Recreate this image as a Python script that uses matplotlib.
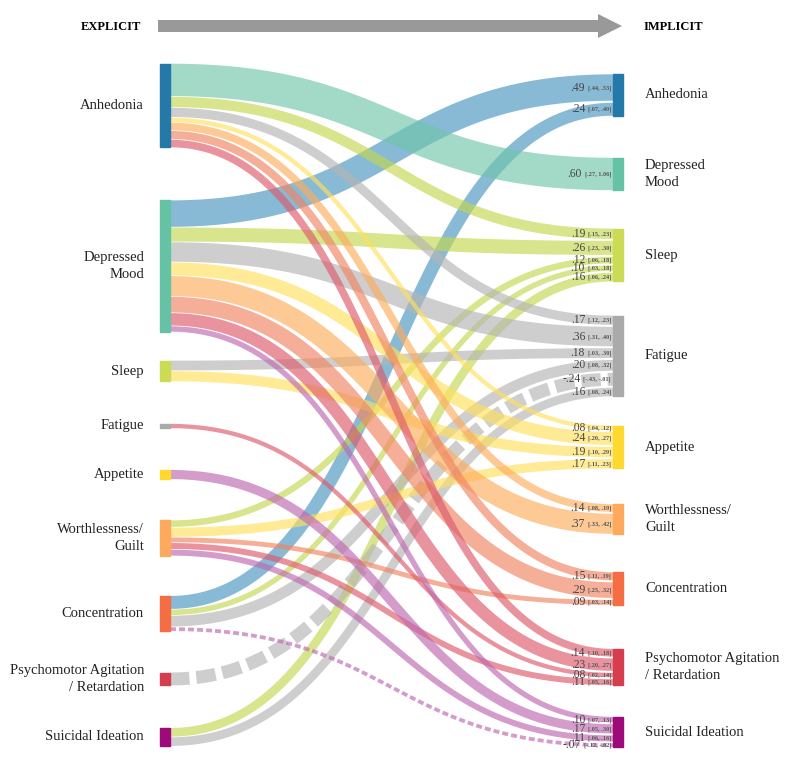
import matplotlib
matplotlib.use('Agg')
import matplotlib.pyplot as plt
import numpy as np
from matplotlib.patches import Rectangle, FancyArrow

plt.rcParams['font.family'] = ['Liberation Serif', 'DejaVu Serif']
plt.rcParams['lines.scale_dashes'] = False

# symptoms (same on both sides)
left_labels = ['Anhedonia', 'Depressed\nMood', 'Sleep', 'Fatigue', 'Appetite',
               'Worthlessness/\nGuilt', 'Concentration',
               'Psychomotor Agitation\n/ Retardation', 'Suicidal Ideation']
right_labels = ['Anhedonia', 'Depressed\nMood', 'Sleep', 'Fatigue', 'Appetite',
                'Worthlessness/\nGuilt', 'Concentration',
                'Psychomotor Agitation\n/ Retardation', 'Suicidal Ideation']

node_colors = ['#2479a9', '#66c2a5', '#cbdb55', '#aaaaaa', '#ffd92f',
               '#fdaa5e', '#f46d43', '#d53e4f', '#9e0a7a']
flow_colors = ['#4896c0', '#70c5aa', '#c3d74e', '#b5b5b5', '#ffe05d',
               '#fcac5d', '#f18461', '#dc5a6a', '#be67af']

# links: explicit symptom -> implicit symptom, estimate and 95% CI
link_src = [1, 6,
            0,
            0, 1, 5, 6, 8,
            0, 1, 2, 6, 7, 8,
            0, 1, 2, 5,
            0, 1,
            0, 1, 5,
            0, 1, 3, 5,
            1, 4, 5, 6]
link_tgt = [0, 0,
            1,
            2, 2, 2, 2, 2,
            3, 3, 3, 3, 3, 3,
            4, 4, 4, 4,
            5, 5,
            6, 6, 6,
            7, 7, 7, 7,
            8, 8, 8, 8]
link_val = [.49, .24,
            .60,
            .19, .26, .12, .10, .16,
            .17, .36, .18, .20, -.24, .16,
            .08, .24, .19, .17,
            .14, .37,
            .15, .29, .09,
            .14, .23, .08, .11,
            .10, .17, .11, -.07]
link_lo = [.44, .07,
           .27,
           .15, .23, .06, .03, .06,
           .12, .31, .03, .08, -.43, .08,
           .04, .20, .10, .11,
           .08, .33,
           .11, .25, .03,
           .10, .20, .02, .05,
           .07, .05, .06, -.12]
link_hi = [.53, .40,
           1.06,
           .23, .30, .18, .18, .24,
           .23, .40, .30, .32, -.01, .24,
           .12, .27, .29, .23,
           .19, .42,
           .19, .32, .14,
           .18, .27, .14, .16,
           .13, .30, .16, -.02]

# layout (pixels)
W, H = 793, 766
scale = 54.0
left_center = [105.5, 266, 371, 426, 474.5, 538, 613.5, 679, 737]
right_center = [95, 174, 255, 356, 447, 519, 588.5, 667, 732]
src_gap, tgt_gap = 0.7, 2.0
xl0, xl1 = 160, 170
xr0, xr1 = 613, 623


def fmt(v):
    s = '%.2f' % v
    return s.replace('0.', '.', 1) if s.lstrip('-').startswith('0.') else s


fig = plt.figure(figsize=(W / 100, H / 100), dpi=100)
ax = fig.add_axes([0, 0, 1, 1])
ax.set_xlim(0, W)
ax.set_ylim(H, 0)
ax.axis('off')

n = len(left_labels)
idx = np.arange(len(link_val))
widths = np.abs(np.array(link_val)) * scale

# stack links on the source side (ordered by target position)
y_src = np.zeros(len(idx))
left_top = []
for s in range(n):
    ls = [i for i in idx if link_src[i] == s]
    ls.sort(key=lambda i: right_center[link_tgt[i]])
    h = sum(widths[i] for i in ls) + src_gap * (len(ls) - 1)
    y = left_center[s] - h / 2
    left_top.append((y, h))
    for i in ls:
        y_src[i] = y + widths[i] / 2
        y += widths[i] + src_gap

# stack links on the target side (ordered by source position)
y_tgt = np.zeros(len(idx))
right_top = []
for t in range(n):
    lt = [i for i in idx if link_tgt[i] == t]
    lt.sort(key=lambda i: left_center[link_src[i]])
    h = sum(widths[i] for i in lt) + tgt_gap * (len(lt) - 1)
    y = right_center[t] - h / 2
    right_top.append((y, h))
    for i in lt:
        y_tgt[i] = y + widths[i] / 2
        y += widths[i] + tgt_gap

# flows
tt = np.linspace(0, 1, 120)
xm = (xl1 + xr0) / 2
for i in idx:
    x0, x1 = xl1, xr0
    y0, y1 = y_src[i], y_tgt[i]
    bx = (1 - tt) ** 3 * x0 + 3 * (1 - tt) ** 2 * tt * xm + 3 * (1 - tt) * tt ** 2 * xm + tt ** 3 * x1
    by = (1 - tt) ** 3 * y0 + 3 * (1 - tt) ** 2 * tt * y0 + 3 * (1 - tt) * tt ** 2 * y1 + tt ** 3 * y1
    lw = widths[i] * 0.72
    col = flow_colors[link_tgt[i]]
    if link_val[i] < 0:
        dash = (14, 5) if widths[i] > 8 else (4.3, 2.2)
        ax.plot(bx, by, color=col, lw=lw, alpha=0.65, solid_capstyle='butt',
                dash_capstyle='butt', dashes=dash, zorder=2)
    else:
        ax.plot(bx, by, color=col, lw=lw, alpha=0.65, solid_capstyle='butt', zorder=2)

# nodes and labels
for k in range(n):
    y, h = left_top[k]
    ax.add_patch(Rectangle((xl0, y), xl1 - xl0, h, color=node_colors[k], zorder=3))
    ax.text(144, left_center[k], left_labels[k], ha='right', va='center',
            multialignment='right', fontsize=10.5, color='#222222', linespacing=1.37)
    y, h = right_top[k]
    ax.add_patch(Rectangle((xr0, y), xr1 - xr0, h, color=node_colors[k], zorder=3))
    ax.text(645, right_center[k], right_labels[k], ha='left', va='center',
            multialignment='left', fontsize=10.5, color='#222222', linespacing=1.37)

# estimates at the implicit end
renderer = fig.canvas.get_renderer()
for i in idx:
    ci = ax.text(611, y_tgt[i] + 0.3, '[%s, %s]' % (fmt(link_lo[i]), fmt(link_hi[i])),
                 ha='right', va='center', fontsize=4.5, fontweight='bold',
                 color='#555555', zorder=4)
    bb = ci.get_window_extent(renderer)
    ax.text(bb.x0 - 2.5, y_tgt[i], fmt(link_val[i]), ha='right', va='center',
            fontsize=8.3, color='#444444', zorder=4)

# header arrow
ax.add_patch(FancyArrow(158, 26, 464, 0, width=12, head_width=24, head_length=24,
                        length_includes_head=True, color='#999999', lw=0))
ax.text(111, 27, 'EXPLICIT', ha='center', va='center', fontsize=9, fontweight='bold')
ax.text(673, 27, 'IMPLICIT', ha='center', va='center', fontsize=9, fontweight='bold')

fig.savefig('out.png', dpi=100)
